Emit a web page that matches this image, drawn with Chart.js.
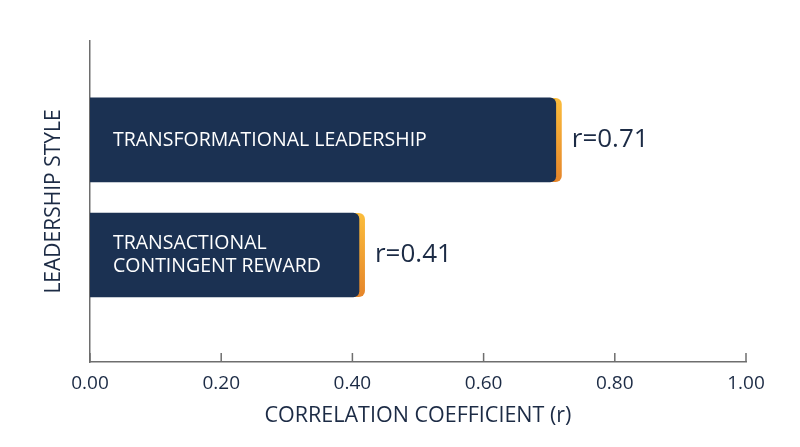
<!DOCTYPE html>
<html>
<head>
<meta charset="utf-8">
<script src="https://cdn.jsdelivr.net/npm/chart.js@4"></script>
<style>
  html, body { margin: 0; padding: 0; background: #fff; }
  #wrap { width: 800px; height: 447px; }
</style>
</head>
<body>
<div id="wrap"><canvas id="chart"></canvas></div>
<script>
const categories = [
  ["TRANSFORMATIONAL LEADERSHIP"],
  ["TRANSACTIONAL", "CONTINGENT REWARD"]
];
const values = [0.71, 0.41];
const valueLabels = ["r=0.71", "r=0.41"];
const xTicks = [0, 0.2, 0.4, 0.6, 0.8, 1.0];

const NAVY = "#1b3152";
const INK = "#1c2b45";
const AXIS = "#6e6e6e";
const FONT = "'Open Sans', 'Noto Sans', sans-serif";

// gold strip peeking out behind each bar end
const accent = {
  id: "accent",
  beforeDatasetsDraw(chart) {
    const ctx = chart.ctx;
    chart.getDatasetMeta(0).data.forEach(bar => {
      const top = bar.y - bar.height / 2;
      const g = ctx.createLinearGradient(0, top, 0, top + bar.height);
      g.addColorStop(0, "#fbbd3c");
      g.addColorStop(1, "#e5852a");
      ctx.save();
      ctx.fillStyle = g;
      ctx.beginPath();
      ctx.roundRect(bar.x - 12, top, 18, bar.height, 6);
      ctx.fill();
      ctx.restore();
    });
  }
};

const labels = {
  id: "labels",
  afterDatasetsDraw(chart) {
    const ctx = chart.ctx;
    chart.getDatasetMeta(0).data.forEach((bar, i) => {
      ctx.save();
      ctx.textBaseline = "middle";
      ctx.fillStyle = "#ffffff";
      ctx.font = "19.5px " + FONT;
      const lines = categories[i];
      const lh = 23;
      lines.forEach((t, k) => {
        ctx.fillText(t, bar.base + 23, bar.y + (k - (lines.length - 1) / 2) * lh);
      });
      ctx.fillStyle = INK;
      ctx.font = "26px " + FONT;
      ctx.fillText(valueLabels[i], bar.x + 16, bar.y);
      ctx.restore();
    });
  },
  afterDraw(chart) {
    // short tick marks pointing up into the plot
    const ctx = chart.ctx;
    const x = chart.scales.x;
    const y0 = chart.chartArea.bottom;
    ctx.save();
    ctx.strokeStyle = AXIS;
    ctx.lineWidth = 1.5;
    x.ticks.forEach(t => {
      const px = x.getPixelForValue(t.value);
      ctx.beginPath();
      ctx.moveTo(px, y0);
      ctx.lineTo(px, y0 - 9);
      ctx.stroke();
    });
    ctx.restore();
  }
};

new Chart(document.getElementById("chart"), {
  type: "bar",
  data: {
    datasets: [{
      data: values.map((v, i) => ({ x: v, y: i + 1 })),
      backgroundColor: NAVY,
      borderRadius: { topRight: 6, bottomRight: 6, topLeft: 0, bottomLeft: 0 },
      borderSkipped: false,
      barThickness: 84
    }]
  },
  options: {
    indexAxis: "y",
    responsive: true,
    maintainAspectRatio: false,
    animation: false,
    layout: { padding: { top: 41, right: 54, left: 0, bottom: 0 } },
    plugins: { legend: { display: false }, tooltip: { enabled: false } },
    scales: {
      x: {
        type: "linear",
        min: 0,
        max: 1,
        afterBuildTicks: s => { s.ticks = xTicks.map(v => ({ value: v })); },
        afterFit: s => { s.height = 85; },
        grid: { display: false, drawTicks: false },
        border: { color: AXIS, width: 1.5 },
        ticks: {
          padding: 10,
          color: INK,
          font: { family: FONT, size: 19 },
          callback: v => Number(v).toFixed(2)
        },
        title: {
          display: true,
          text: "CORRELATION COEFFICIENT (r)",
          color: INK,
          font: { family: FONT, size: 21.5 },
          padding: { top: 0, bottom: 18 }
        }
      },
      y: {
        type: "linear",
        offset: false,
        reverse: true,
        min: 0.14,
        max: 2.93,
        afterFit: s => { s.width = 90; },
        grid: { display: false, drawTicks: false, offset: false },
        border: { color: AXIS, width: 1.5 },
        ticks: { display: false },
        title: {
          display: true,
          text: "LEADERSHIP STYLE",
          color: INK,
          font: { family: FONT, size: 21 },
          padding: { top: 41, bottom: 0 }
        }
      }
    }
  },
  plugins: [accent, labels]
});
</script>
</body>
</html>
